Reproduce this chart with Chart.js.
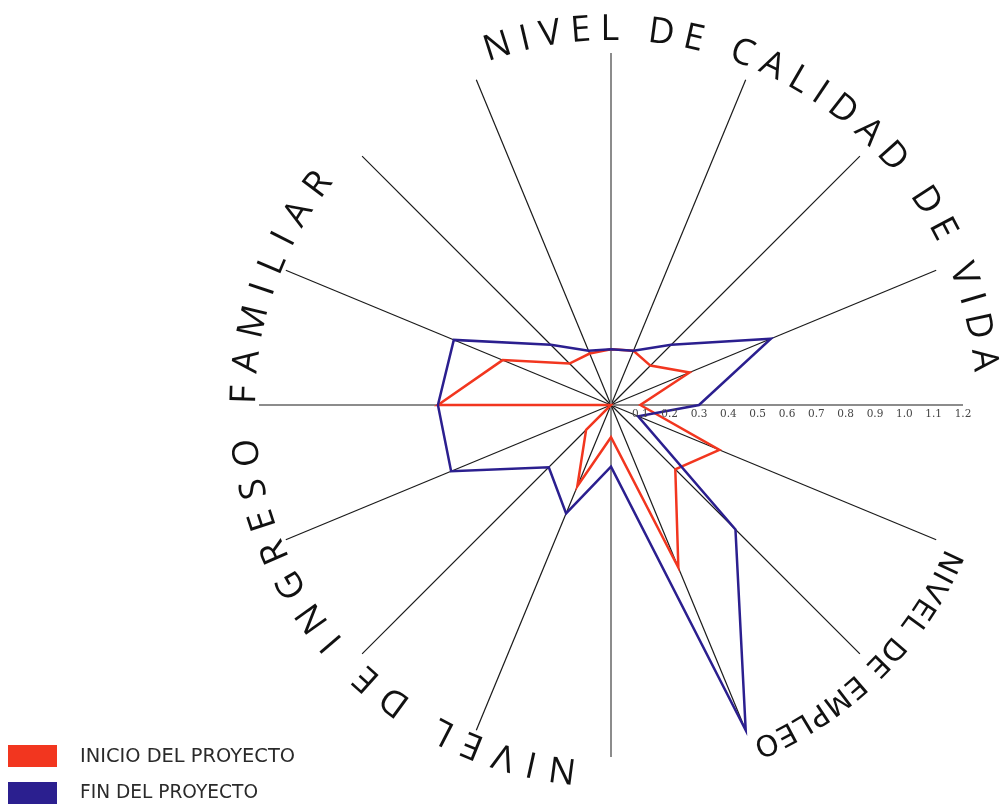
<!DOCTYPE html>
<html>
<head>
<meta charset="utf-8">
<script src="https://cdn.jsdelivr.net/npm/chart.js@4.4.1/dist/chart.umd.min.js"></script>
<style>
html,body{margin:0;padding:0;background:#fff;}
#wrap{position:relative;width:1004px;height:810px;}
canvas{display:block;}
</style>
</head>
<body>
<div id="wrap"><canvas id="c" width="1004" height="810"></canvas></div>
<script>
// ---- data ----
const categories = ['1','2','3','4','5','6','7','8','9','10','11','12','13','14','15','16'];
const inicioValues = [0.19, 0.20, 0.19, 0.29, 0.10, 0.40, 0.31, 0.60, 0.11, 0.30, 0.12, 0.00, 0.59, 0.40, 0.20, 0.19];
const finValues    = [0.19, 0.20, 0.29, 0.59, 0.30, 0.10, 0.60, 1.20, 0.21, 0.40, 0.30, 0.59, 0.59, 0.58, 0.29, 0.20];
const tickValues = [0.1, 0.2, 0.3, 0.4, 0.5, 0.6, 0.7, 0.8, 0.9, 1.0, 1.1, 1.2];
const tickLabels = ['0.1','0.2','0.3','0.4','0.5','0.6','0.7','0.8','0.9','1.0','1.1','1.2'];
const seriesNames = ['INICIO DEL PROYECTO', 'FIN DEL PROYECTO'];
const arcTitles = ['NIVEL DE CALIDAD DE VIDA', 'NIVEL DE INGRESO FAMILIAR', 'NIVEL DE EMPLEO'];

const RED = '#f2361f';
const BLUE = '#2b1f8f';

function drawArcText(ctx, cx, cy, a) {
  ctx.save();
  ctx.font = a.font;
  ctx.fillStyle = '#111';
  ctx.textAlign = 'center';
  ctx.textBaseline = 'alphabetic';
  const chars = [...a.text];
  const w = chars.map(ch => ctx.measureText(ch).width);
  const centers = [];
  let pos = 0;
  for (let i = 0; i < chars.length; i++) {
    if (i > 0) pos += w[i - 1] / 2 + w[i] / 2;
    centers.push(pos);
  }
  const arcLen = a.rc * (a.a1 - a.a0) * Math.PI / 180;
  const extra = (arcLen - pos) / (chars.length - 1);
  chars.forEach((ch, i) => {
    const d = centers[i] + extra * i;
    const th = a.a0 * Math.PI / 180 + d / a.rc;
    ctx.save();
    ctx.translate(cx, cy);
    ctx.rotate(th);
    ctx.fillText(ch, 0, -a.r);
    ctx.restore();
  });
  ctx.restore();
}

const decor = {
  id: 'decor',
  afterDraw(chart) {
    const ctx = chart.ctx;
    const s = chart.scales.r;
    const cx = s.xCenter, cy = s.yCenter;
    // tick labels along horizontal axis
    ctx.save();
    ctx.fillStyle = '#444';
    ctx.font = '10.5px "DejaVu Serif"';
    ctx.textAlign = 'center';
    ctx.textBaseline = 'top';
    tickValues.forEach((v, i) => {
      ctx.fillText(tickLabels[i], cx + s.getDistanceFromCenterForValue(v), cy + 4);
    });
    ctx.restore();
    // curved titles
    drawArcText(ctx, cx, cy, {text: arcTitles[0], a0: -17.6, a1: 83.1, r: 365, rc: 378, font: '36px "Open Sans"'});
    drawArcText(ctx, cx, cy, {text: arcTitles[1], a0: 187.6, a1: 307, r: 356, rc: 369, font: '36px "Open Sans"'});
    drawArcText(ctx, cx, cy, {text: arcTitles[2], a0: 114.9, a1: 155.4, r: 364, rc: 375, font: '29px "DejaVu Sans"'});
    // legend
    ctx.save();
    ctx.fillStyle = RED;
    ctx.fillRect(8, 745, 49, 22);
    ctx.fillStyle = BLUE;
    ctx.fillRect(8, 782, 49, 22);
    ctx.fillStyle = '#2a2a2a';
    ctx.font = '19.5px "DejaVu Sans"';
    ctx.textAlign = 'left';
    ctx.textBaseline = 'alphabetic';
    ctx.fillText(seriesNames[0], 80, 762, 215);
    ctx.fillText(seriesNames[1], 80, 798, 178);
    ctx.restore();
  }
};

new Chart(document.getElementById('c'), {
  type: 'radar',
  data: {
    labels: categories,
    datasets: [
      {label: seriesNames[0], data: inicioValues, borderColor: RED, backgroundColor: 'transparent',
       borderWidth: 2.5, fill: false, pointRadius: 0, pointHoverRadius: 0, tension: 0, order: 1},
      {label: seriesNames[1], data: finValues, borderColor: BLUE, backgroundColor: 'transparent',
       borderWidth: 2.5, fill: false, pointRadius: 0, pointHoverRadius: 0, tension: 0, order: 0}
    ]
  },
  options: {
    responsive: false,
    animation: false,
    devicePixelRatio: 1,
    layout: {padding: {left: 259, right: 41, top: 53, bottom: 53}},
    plugins: {legend: {display: false}, tooltip: {enabled: false}},
    elements: {line: {borderJoinStyle: 'miter'}},
    scales: {
      r: {
        min: 0, max: 1.2,
        ticks: {display: false, stepSize: 0.1},
        grid: {display: false},
        pointLabels: {display: false},
        angleLines: {
          display: true,
          color: c => (c.index % 4 === 0 ? '#8c8c8c' : '#1a1a1a'),
          lineWidth: c => (c.index % 4 === 0 ? 2 : 1.2)
        }
      }
    }
  },
  plugins: [decor]
});
</script>
</body>
</html>
